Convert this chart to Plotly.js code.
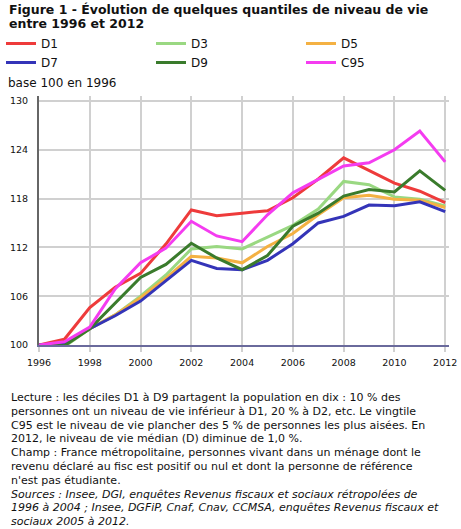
<!DOCTYPE html>
<html>
<head>
<meta charset="utf-8">
<script src="https://cdn.plot.ly/plotly-3.0.1.min.js"></script>
<style>html,body{margin:0;padding:0;background:#fff;}#chart{width:461px;height:529px;}</style>
</head>
<body>
<div id="chart"></div>
<script>
var years = [1996,1997,1998,1999,2000,2001,2002,2003,2004,2005,2006,2007,2008,2009,2010,2011,2012];
var seriesNames = ["D1","D3","D5","D7","D9","C95"];
var d1  = [100,100.7,104.6,107.1,108.8,112.4,116.6,115.9,116.2,116.5,118.1,120.4,123.0,121.5,119.9,118.9,117.5];
var d3  = [100,99.8,102.0,103.7,106.0,108.6,111.8,112.1,111.8,113.2,114.7,116.7,120.1,119.7,118.2,117.9,117.1];
var d5  = [100,100.0,102.0,103.7,105.8,108.2,110.9,110.7,110.1,112.1,113.7,116.0,118.1,118.4,117.9,117.8,116.9];
var d7  = [100,100.2,102.0,103.6,105.4,107.9,110.4,109.4,109.25,110.4,112.45,115.0,115.8,117.2,117.1,117.6,116.4];
var d9  = [100,99.9,102.0,105.1,108.3,109.9,112.5,110.7,109.25,111.0,114.6,116.2,118.3,119.1,118.8,121.4,119.0];
var c95 = [100,100.4,102.2,106.9,110.1,111.9,115.2,113.4,112.7,116.0,118.7,120.4,122.0,122.4,124.0,126.3,122.5];
var xTicks = [1996,1998,2000,2002,2004,2006,2008,2010,2012];
var yTicks = [100,106,112,118,124,130];
var titleLines = ["Figure 1 - Évolution de quelques quantiles de niveau de vie","entre 1996 et 2012"];
var unitLabel = "base 100 en 1996";
var noteLines = [
 "Lecture : les déciles D1 à D9 partagent la population en dix : 10 % des",
 "personnes ont un niveau de vie inférieur à D1, 20 % à D2, etc. Le vingtile",
 "C95 est le niveau de vie plancher des 5 % de personnes les plus aisées. En",
 "2012, le niveau de vie médian (D) diminue de 1,0 %.",
 "Champ : France métropolitaine, personnes vivant dans un ménage dont le",
 "revenu déclaré au fisc est positif ou nul et dont la personne de référence",
 "n'est pas étudiante.",
 "<i>Sources : Insee, DGI, enquêtes Revenus fiscaux et sociaux rétropolées de</i>",
 "<i>1996 à 2004 ; Insee, DGFiP, Cnaf, Cnav, CCMSA, enquêtes Revenus fiscaux et</i>",
 "<i>sociaux 2005 à 2012.</i>"
];

var allSeries = [d1,d3,d5,d7,d9,c95];
var colors = ["#ee3b3b","#9ad882","#f4b143","#3434b8","#3a7b2c","#f43cf0"];

var W = 461, H = 529;
var mL = 39, mR = 12, mT = 96, mB = 184;
var pw = W - mL - mR, ph = H - mT - mB;
function px2x(px){ return (px - mL) / pw; }
function py2y(py){ return (H - mB - py) / ph; }

var FONT = "DejaVu Sans, Verdana, sans-serif";

var traces = seriesNames.map(function(n,i){
  return {x: years, y: allSeries[i], name: n, type: "scatter", mode: "lines",
          line: {color: colors[i], width: 3}, hoverinfo: "skip"};
});

var annotations = [];
titleLines.forEach(function(t,i){
  annotations.push({text: "<b>"+t+"</b>", xref:"paper", yref:"paper", x: px2x(7), y: py2y(10 + 13.5*i),
    xanchor:"left", yanchor:"middle", showarrow:false, font:{family:FONT, size:12.5, color:"#111"}});
});
annotations.push({text: unitLabel, xref:"paper", yref:"paper", x: px2x(6), y: py2y(83),
  xanchor:"left", yanchor:"middle", showarrow:false, font:{family:FONT, size:12, color:"#111"}});
noteLines.forEach(function(t,i){
  annotations.push({text: t, xref:"paper", yref:"paper", x: px2x(9), y: py2y(397.5 + 13.8*i),
    xanchor:"left", yanchor:"middle", showarrow:false, align:"left", font:{family:FONT, size:11, color:"#111"}});
});

var layout = {
  width: W, height: H,
  margin: {l: mL, r: mR, t: mT, b: mB, autoexpand: false},
  paper_bgcolor: "#fff", plot_bgcolor: "#fff",
  font: {family: FONT, color: "#111"},
  showlegend: true,
  legend: {orientation: "h", x: px2x(1), y: py2y(29), xanchor: "left", yanchor: "top",
           entrywidth: 105, entrywidthmode: "pixels", font: {family: FONT, size: 12, color: "#111"},
           bgcolor: "rgba(0,0,0,0)", traceorder: "normal"},
  xaxis: {range: [1996, 2012.15], tickvals: xTicks, ticktext: xTicks.map(String),
          showgrid: true, gridcolor: "#d0d0d0", gridwidth: 2,
          ticks: "outside", ticklen: 5, tickcolor: "#d0d0d0", tickwidth: 2, ticklabelstandoff: 3,
          showline: true, linecolor: "#6a6a9c", linewidth: 2, zeroline: false,
          tickfont: {family: FONT, size: 9.5, color: "#111"}, fixedrange: true},
  yaxis: {range: [100, 130.6], tickvals: yTicks, ticktext: yTicks.map(String),
          showgrid: true, gridcolor: "#d0d0d0", gridwidth: 2,
          ticks: "", ticklabelstandoff: 7,
          showline: true, linecolor: "#666", linewidth: 2, zeroline: false,
          tickfont: {family: FONT, size: 9.5, color: "#111"}, fixedrange: true},
  annotations: annotations
};

Plotly.newPlot("chart", traces, layout, {displayModeBar: false, staticPlot: true});
</script>
</body>
</html>
